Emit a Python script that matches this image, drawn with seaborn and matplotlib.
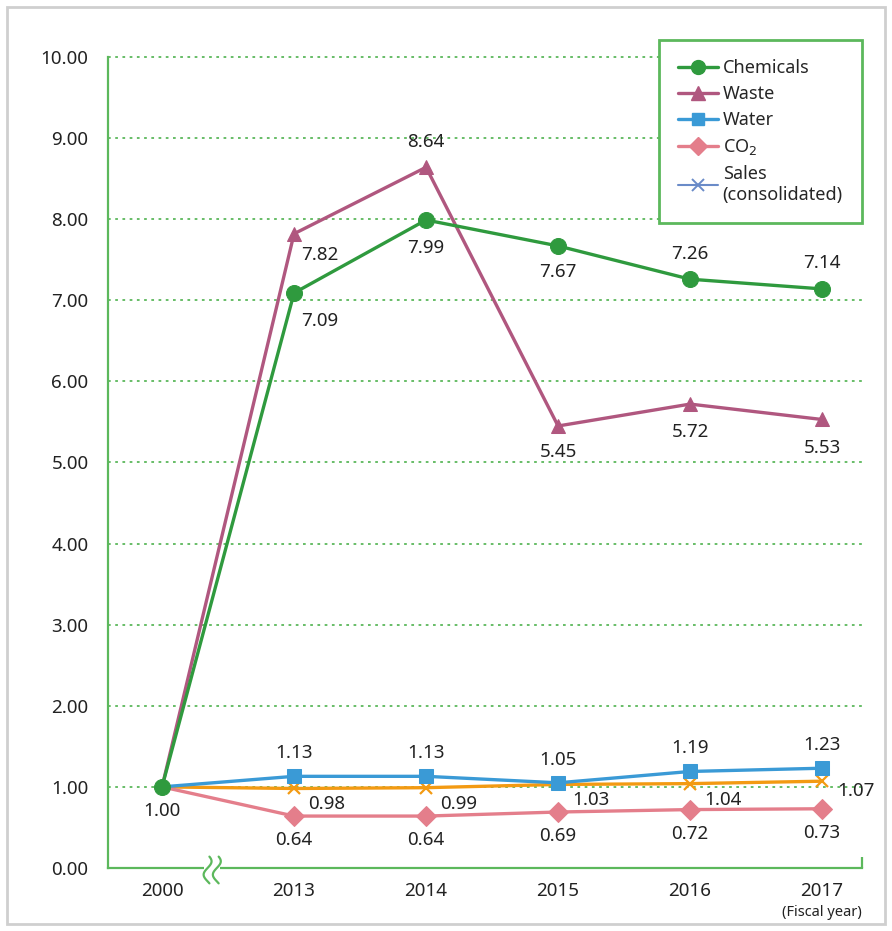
import matplotlib
matplotlib.use("Agg")
import matplotlib.pyplot as plt
import matplotlib.patches as mpatches
from matplotlib.lines import Line2D
import numpy as np
import pandas as pd
import seaborn as sns

years = ["2000", "2013", "2014", "2015", "2016", "2017"]
chemicals = [1.00, 7.09, 7.99, 7.67, 7.26, 7.14]
waste = [1.00, 7.82, 8.64, 5.45, 5.72, 5.53]
water = [1.00, 1.13, 1.13, 1.05, 1.19, 1.23]
co2 = [1.00, 0.64, 0.64, 0.69, 0.72, 0.73]
sales = [1.00, 0.98, 0.99, 1.03, 1.04, 1.07]
y_ticks = [0, 1, 2, 3, 4, 5, 6, 7, 8, 9, 10]

sns.set_theme(style="white")
plt.rcParams["font.family"] = ["Noto Sans", "DejaVu Sans"]

AXIS_GREEN = "#5cb85c"
C_CHEM = "#2f9a3e"
C_WASTE = "#b0577f"
C_WATER = "#3a9ad6"
C_CO2 = "#e47e8b"
C_SALES = "#f39a12"
C_SALES_KEY = "#6a8bc8"
TXT = "#222222"

fig = plt.figure(figsize=(8.92, 9.31), dpi=100)
ax = fig.add_axes([0.121, 0.0677, 0.845, 0.8711])

pos = np.arange(len(years))
df = pd.DataFrame({"pos": pos, "Chemicals": chemicals, "Waste": waste,
                   "Water": water, "CO2": co2, "Sales": sales})

# the common base year (index 0) carries only the Chemicals marker
later = list(range(1, len(years)))
lw = 2.4
sns.lineplot(data=df, x="pos", y="Sales", ax=ax, color=C_SALES, lw=lw,
             marker="x", markersize=8, markeredgewidth=1.6,
             markeredgecolor=C_SALES, markevery=later, zorder=3)
sns.lineplot(data=df, x="pos", y="CO2", ax=ax, color=C_CO2, lw=lw,
             marker="D", markersize=10, markeredgecolor=C_CO2,
             markevery=later, zorder=3)
sns.lineplot(data=df, x="pos", y="Water", ax=ax, color=C_WATER, lw=lw,
             marker="s", markersize=9.5, markeredgecolor=C_WATER,
             markevery=later, zorder=4)
sns.lineplot(data=df, x="pos", y="Waste", ax=ax, color=C_WASTE, lw=lw,
             marker="^", markersize=10.5, markeredgecolor=C_WASTE,
             markevery=later, zorder=4)
sns.lineplot(data=df, x="pos", y="Chemicals", ax=ax, color=C_CHEM, lw=lw,
             marker="o", markersize=11.5, markeredgecolor=C_CHEM, zorder=5)

ax.set_xlim(-0.41, 5.30)
ax.set_ylim(0, 10)
ax.set_xticks(pos)
ax.set_xticklabels(years)
ax.set_yticks(y_ticks)
ax.set_yticklabels([f"{v:.2f}" for v in y_ticks])
ax.tick_params(axis="both", length=0, labelsize=13.5, labelcolor=TXT)
ax.tick_params(axis="x", pad=10)
ax.tick_params(axis="y", pad=14)
ax.set_xlabel("")
ax.set_ylabel("")

# dotted horizontal grid
for v in y_ticks[1:]:
    ax.axhline(v, color=AXIS_GREEN, lw=1.3, ls=(0, (1.5, 2.5)), zorder=1,
               clip_on=False)

for side in ["top", "right"]:
    ax.spines[side].set_visible(False)
for side in ["left", "bottom"]:
    ax.spines[side].set_color(AXIS_GREEN)
    ax.spines[side].set_linewidth(1.6)

# short end tick at the right end of the baseline
ax.plot([1, 1], [0, 0.014], transform=ax.transAxes, color=AXIS_GREEN,
        lw=1.6, clip_on=False, solid_capstyle="butt")

# axis break marks between 2000 and 2013
bx = 0.38
ax.add_patch(mpatches.Rectangle((bx - 0.06, -0.06), 0.12, 0.1,
                                transform=ax.transData, facecolor="white",
                                edgecolor="none", clip_on=False, zorder=6))
tt = np.linspace(-0.19, 0.14, 60)
for dx in (-0.035, 0.035):
    xs = bx + dx + 0.03 * np.sin(tt / 0.33 * 2 * np.pi)
    ax.plot(xs, tt, color=AXIS_GREEN, lw=1.6, clip_on=False, zorder=7)


def label(xi, yi, text, dx, dy):
    ax.annotate(text, (xi, yi), xytext=(dx, dy), textcoords="offset pixels",
                ha="center", va="center", fontsize=13.5, color=TXT, zorder=8)


label(0, 1.00, "1.00", 0, -24)

chem_off = [None, (26, -28), (0, -28), (0, -26), (0, 25), (0, 26)]
waste_off = [None, (26, -21), (0, 25), (0, -26), (0, -28), (0, -29)]
for i in range(1, 6):
    label(i, chemicals[i], f"{chemicals[i]:.2f}", *chem_off[i])
    label(i, waste[i], f"{waste[i]:.2f}", *waste_off[i])
    label(i, water[i], f"{water[i]:.2f}", 0, 23)
    label(i, co2[i], f"{co2[i]:.2f}", 0, -24)
    if i < 5:
        label(i, sales[i], f"{sales[i]:.2f}", 33, -16)
    else:
        label(i, sales[i], f"{sales[i]:.2f}", 34, -10)

ax.text(1.0, -0.055, "(Fiscal year)", transform=ax.transAxes, ha="right",
        va="center", fontsize=10.5, color=TXT)

handles = [
    Line2D([], [], color=C_CHEM, lw=lw, marker="o", markersize=10),
    Line2D([], [], color=C_WASTE, lw=lw, marker="^", markersize=10),
    Line2D([], [], color=C_WATER, lw=lw, marker="s", markersize=9),
    Line2D([], [], color=C_CO2, lw=lw, marker="D", markersize=9),
    Line2D([], [], color=C_SALES_KEY, lw=1.5, marker="x", markersize=8,
           markeredgewidth=1.4),
]
names = ["Chemicals", "Waste", "Water", "CO$_2$", "Sales\n(consolidated)"]
leg = ax.legend(handles, names, loc="upper right",
                bbox_to_anchor=(1.0, 1.021), borderaxespad=0, frameon=True,
                fontsize=13, handlelength=2.2, handletextpad=0.25,
                labelspacing=0.45, borderpad=1.05, fancybox=False,
                framealpha=1)
leg.get_frame().set_edgecolor(AXIS_GREEN)
leg.get_frame().set_linewidth(2)
leg.set_zorder(10)

# light outer frame around the figure
fig.patches.append(mpatches.Rectangle((0.008, 0.008), 0.984, 0.984,
                                      transform=fig.transFigure, fill=False,
                                      edgecolor="#cfcfcf", lw=2))

fig.savefig("out.png", dpi=100, facecolor="white")
